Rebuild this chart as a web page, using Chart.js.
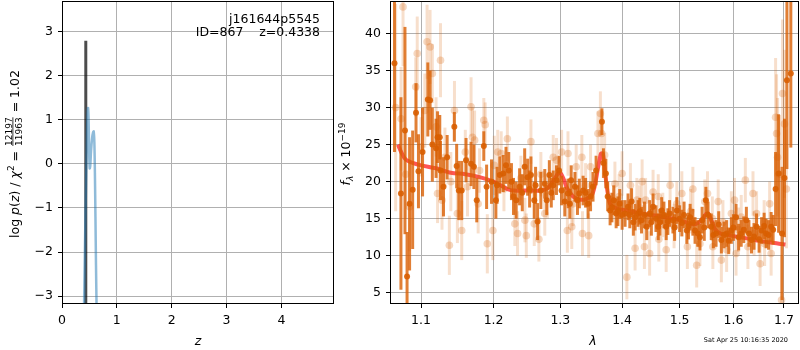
<!DOCTYPE html>
<html>
<head>
<meta charset="utf-8">
<script src="https://cdn.jsdelivr.net/npm/chart.js@4"></script>
<style>
  body { margin: 0; background: #fff; }
  #wrap { position: relative; width: 800px; height: 350px; }
  canvas { position: absolute; top: 0; }
</style>
</head>
<body>
<div id="wrap">
  <canvas id="pz" width="336" height="350" style="left:0"></canvas>
  <canvas id="spec" width="464" height="350" style="left:336px"></canvas>
</div>
<script>
/* p(z) panel */
const zTicks = [0, 1, 2, 3, 4];
const logpTicks = [-3, -2, -1, 0, 1, 2, 3];
const pzZ   = [0.40, 0.43, 0.455, 0.468, 0.476, 0.485, 0.495, 0.505, 0.515, 0.53, 0.55, 0.567, 0.578, 0.59, 0.60, 0.61, 0.62, 0.632];
const pzLog = [-3.4, -1.0, 0.6, 1.2, 1.27, 1.0, 0.3, -0.1, -0.05, 0.3, 0.6, 0.72, 0.74, 0.5, -0.2, -1.2, -2.3, -3.4];
const zBest = 0.4338;
const zBestTop = 2.8;

/* spectrum panel */
const lamTicks = [1.1, 1.2, 1.3, 1.4, 1.5, 1.6, 1.7];
const fluxTicks = [5, 10, 15, 20, 25, 30, 35, 40];

const darkWave = [1.0655, 1.0738, 1.079, 1.0817, 1.085, 1.089, 1.0934, 1.0966, 1.102, 1.109, 1.112, 1.115, 1.12, 1.122, 1.125, 1.126, 1.13, 1.135, 1.1448, 1.148,
  1.151, 1.155, 1.161, 1.168, 1.172, 1.176, 1.186, 1.19, 1.197, 1.2033, 1.209, 1.214, 1.218, 1.222, 1.229, 1.233, 1.238, 1.2456, 1.25, 1.255,
  1.26, 1.265, 1.27, 1.276, 1.283, 1.289, 1.294, 1.302, 1.307, 1.312, 1.317, 1.323, 1.33, 1.336, 1.344, 1.352, 1.357, 1.3665, 1.369, 1.373,
  1.376, 1.38, 1.386, 1.39, 1.396, 1.405, 1.41, 1.416, 1.422, 1.427, 1.433, 1.442, 1.447, 1.453, 1.462, 1.468, 1.476, 1.482, 1.488, 1.495,
  1.504, 1.513, 1.519, 1.528, 1.533, 1.541, 1.548, 1.552, 1.558, 1.567, 1.577, 1.587, 1.596, 1.605, 1.615, 1.625, 1.635, 1.645, 1.655, 1.664,
  1.674, 1.683, 1.689, 1.696, 1.701, 1.706, 1.714,
  1.205, 1.226, 1.242, 1.253, 1.262, 1.279, 1.286, 1.298, 1.315, 1.327, 1.34, 1.348, 1.383, 1.393, 1.4, 1.413, 1.419, 1.43, 1.438, 1.45,
  1.458, 1.465, 1.472, 1.479, 1.491, 1.5, 1.508, 1.516, 1.524, 1.537, 1.545, 1.562, 1.572, 1.582, 1.591, 1.6, 1.61, 1.62, 1.63, 1.64,
  1.65, 1.66, 1.669, 1.678];
const darkFlux = [36, 18.4, 26.9, 7.2, 17, 18.9, 29.3, 21.4, 24, 31.1, 31, 25, 24.5, 26, 26, 21.5, 19.3, 23.3, 27.4, 22.1,
  18.8, 18.8, 22.9, 22.4, 22, 17.5, 24.8, 19.3, 20, 17.5, 20.9, 21.1, 22.2, 21.5, 18, 17.5, 19.3, 22, 20.6, 20.9,
  17.5, 14.6, 18.8, 19.7, 20.9, 19.5, 20.2, 18.8, 17.3, 18.4, 20.2, 19.3, 18.4, 18.8, 17, 19.3, 21.5, 28.1, 22.5, 21.1,
  18, 16.1, 17.5, 15.7, 17, 15.7, 16.6, 17.3, 15.2, 15.7, 14.8, 13.9, 15.7, 16.6, 13.9, 16.1, 13.9, 15.7, 14.8, 16.1,
  14.4, 13.4, 15.2, 13.4, 13, 14.8, 17.5, 15.5, 13.9, 13, 12.1, 13, 13.4, 15.2, 13, 14.8, 12.1, 13.9, 13.4, 13,
  13.9, 19, 21.1, 13, 20.5, 33.7, 34.6,
  19.5, 20, 18.5, 19, 19.5, 17.5, 18.5, 21.5, 17, 17.5, 18.5, 18, 16.5, 16, 15.5, 15.5, 14.5, 16, 15.5, 14.5,
  15, 14.5, 15.5, 14.6, 13.8, 15, 15.5, 14, 14.5, 12.5, 13.8, 12.8, 14.2, 12.8, 12, 13.8, 12.5, 13.5, 13, 12.6,
  12.2, 14, 12.8, 13.5];
const darkErr = [12, 13, 14, 6, 9, 8, 4, 5, 6, 5, 4, 5, 4, 3.5, 3, 4, 4, 3, 2, 3,
  4, 4, 3, 3, 3, 3, 2, 3, 3, 2.5, 2.5, 2.5, 2.5, 2.5, 2.5, 2.5, 2.5, 2.5, 2.5, 2.5,
  2.5, 2.5, 2.5, 2, 2, 2, 2, 2, 2, 2, 2, 2, 2, 2, 2, 2, 2, 1.8, 2, 2,
  2, 2, 2, 2, 2, 1.8, 1.8, 1.8, 1.8, 1.8, 1.8, 1.8, 1.8, 1.8, 1.8, 1.8, 1.8, 1.8, 1.8, 1.8,
  1.8, 1.8, 1.8, 1.8, 1.8, 1.8, 1.8, 1.8, 1.8, 1.8, 1.8, 1.8, 1.8, 1.8, 1.8, 1.8, 1.8, 1.8, 1.8, 2,
  2, 5, 8, 9, 8, 12, 10,
  2.5, 2.5, 2.5, 2.5, 2.5, 2, 2, 2, 2, 2, 2, 2, 2, 2, 2, 1.8, 1.8, 1.8, 1.8, 1.8,
  1.8, 1.8, 1.8, 1.8, 1.8, 1.8, 1.8, 1.8, 1.8, 1.8, 1.8, 1.8, 1.8, 1.8, 1.8, 1.8, 1.8, 1.8, 1.8, 1.8,
  1.8, 1.8, 2, 2];

const lightWave = [1.067, 1.0765, 1.074, 1.08, 1.085, 1.093, 1.095, 1.1, 1.105, 1.108, 1.112, 1.115, 1.12, 1.122, 1.126, 1.128, 1.132, 1.138, 1.14, 1.145,
  1.149, 1.155, 1.16, 1.163, 1.168, 1.17, 1.173, 1.178, 1.18, 1.186, 1.188, 1.191, 1.199, 1.201, 1.206, 1.211, 1.215, 1.22, 1.231, 1.235,
  1.24, 1.246, 1.248, 1.255, 1.26, 1.267, 1.27, 1.276, 1.28, 1.289, 1.294, 1.302, 1.311, 1.312, 1.318, 1.32, 1.325, 1.334, 1.335, 1.34,
  1.345, 1.348, 1.36, 1.364, 1.366, 1.371, 1.388, 1.395, 1.4, 1.408, 1.414, 1.422, 1.425, 1.43, 1.434, 1.438, 1.44, 1.447, 1.453, 1.462,
  1.463, 1.47, 1.476, 1.483, 1.49, 1.495, 1.504, 1.514, 1.52, 1.524, 1.531, 1.537, 1.546, 1.551, 1.56, 1.561, 1.571, 1.577, 1.58, 1.587,
  1.596, 1.602, 1.605, 1.61, 1.615, 1.623, 1.628, 1.638, 1.64, 1.645, 1.652, 1.66, 1.661, 1.671, 1.674, 1.683, 1.685, 1.687, 1.691, 1.695,
  1.697, 1.701, 1.705];
const lightFlux = [30, 43.6, 28.5, 21, 16.6, 32.8, 37.3, 24.7, 29.6, 38.9, 38.2, 34.6, 27.4, 18.4, 36.4, 17.5, 23.3, 11.4, 20, 29.6,
  15.7, 13.4, 24, 19.3, 30.1, 26, 25.6, 17, 21.5, 28.3, 27.7, 11.6, 13.4, 22.2, 24, 23.8, 19, 25.8, 14.3, 13,
  20.5, 14.8, 12.7, 25.4, 14.3, 12.2, 21, 15.7, 18, 23.3, 22.9, 24, 13.4, 23.8, 13.9, 17, 22, 23.3, 13, 19.5,
  12.7, 22, 26.5, 29.2, 26.5, 23.6, 19.7, 18, 21.1, 7.1, 19.5, 11, 17.5, 16.5, 20, 11.2, 17.5, 10.3, 18.6, 18,
  12.2, 15.5, 10.8, 19.5, 14, 17, 18.4, 11.2, 16, 19, 8.7, 11.6, 17.3, 18.4, 15, 11.2, 17.3, 9.4, 14.5, 10.8,
  15.7, 17.5, 10.3, 13.5, 15.2, 20.2, 11.2, 18.4, 13, 15.7, 8.9, 14.5, 11.6, 17, 10.3, 28.7, 26.5, 23.3, 21, 4,
  31.9, 27.8, 19];
const lightErr = [14, 8, 7, 6, 6, 4, 5, 4, 5, 5, 5, 4, 4, 4, 5, 4, 4, 4, 4, 4,
  4, 4, 3, 4, 4, 4, 4, 4, 3, 3, 3, 4, 4, 4, 3, 3, 3, 3, 3, 3,
  3, 3, 3, 3, 3, 3, 3, 3, 3, 3, 3, 3, 3, 3, 3, 3, 3, 3, 3, 3,
  3, 3, 3, 3, 3, 3, 3, 3, 3, 3, 3, 3, 3, 3, 3, 3, 3, 3, 3, 3,
  3, 3, 3, 3, 3, 3, 3, 3, 3, 3, 3, 3, 3, 3, 3, 3, 3, 3, 3, 3,
  3, 3, 3, 3, 3, 3, 3, 3, 3, 3, 3, 3, 3, 3, 3, 8, 8, 8, 8, 6,
  10, 10, 8];

const modelWave = [1.070, 1.075, 1.080, 1.090, 1.100, 1.120, 1.140, 1.160, 1.180, 1.200, 1.210, 1.220, 1.230, 1.250, 1.270, 1.280, 1.290, 1.297, 1.300, 1.305,
  1.310, 1.320, 1.330, 1.340, 1.350, 1.355, 1.360, 1.365, 1.368, 1.372, 1.376, 1.380, 1.390, 1.400, 1.420, 1.440, 1.460, 1.480, 1.500, 1.520,
  1.530, 1.540, 1.548, 1.552, 1.558, 1.565, 1.575, 1.590, 1.610, 1.630, 1.650, 1.670, 1.690, 1.703];
const modelFlux = [25.0, 23.8, 23.0, 22.5, 22.2, 21.8, 21.2, 21.0, 20.6, 20.0, 19.5, 19.0, 18.8, 18.8, 18.8, 19.1, 20.2, 21.2, 21.2, 20.4,
  19.2, 18.0, 17.6, 17.6, 18.2, 19.5, 21.8, 23.8, 23.8, 21.0, 18.5, 17.0, 16.4, 16.2, 15.9, 15.6, 15.4, 15.1, 14.8, 14.3,
  14.3, 14.8, 15.6, 15.7, 14.8, 13.6, 13.0, 12.8, 12.5, 12.3, 12.0, 11.8, 11.6, 11.5];

const zip = (xs, ys) => xs.map((x, i) => ({x: x, y: ys[i]}));
const tickFont = {family: 'DejaVu Sans', size: 12.5};
const gridStyle = {color: '#b0b0b0', lineWidth: 1, tickColor: '#000', tickLength: 4, tickWidth: 1};
const minus = v => (v < 0 ? '\u2212' + Math.abs(v) : '' + v);
const fitX = ax => { ax.height = 46; ax.paddingLeft = 0; ax.paddingRight = 0; };
const fitY = w => ax => { ax.width = w; ax.paddingTop = 0; ax.paddingBottom = 0; };

// draw the axes box
const frame = {
  id: 'frame',
  afterDraw(chart) {
    const {ctx, chartArea: a} = chart;
    ctx.save();
    ctx.strokeStyle = '#000';
    ctx.lineWidth = 1;
    ctx.strokeRect(Math.round(a.left) + 0.5, Math.round(a.top) + 0.5, Math.round(a.width) - 1, Math.round(a.height) - 1);
    ctx.restore();
  }
};

// vertical error bars, drawn just before each dataset's points
const errorBars = {
  id: 'errorBars',
  beforeDatasetDraw(chart, args) {
    const ds = chart.data.datasets[args.index];
    if (!ds.errors) return;
    const {ctx, chartArea: a, scales: {x, y}} = chart;
    ctx.save();
    ctx.beginPath();
    ctx.rect(a.left, a.top, a.width, a.height);
    ctx.clip();
    ctx.strokeStyle = ds.errorColor;
    ctx.lineWidth = 3;
    ds.data.forEach((p, i) => {
      const px = x.getPixelForValue(p.x);
      ctx.beginPath();
      ctx.moveTo(px, y.getPixelForValue(p.y - ds.errors[i]));
      ctx.lineTo(px, y.getPixelForValue(p.y + ds.errors[i]));
      ctx.stroke();
    });
    ctx.restore();
  }
};

// write text pieces one after another: [text, font, dy]
function pieces(ctx, list, x0, base) {
  let x = x0;
  list.forEach(p => {
    ctx.font = p[1];
    ctx.fillText(p[0], x, base + (p[2] || 0));
    x += ctx.measureText(p[0]).width;
  });
  return x;
}
function piecesWidth(ctx, list) {
  let w = 0;
  list.forEach(p => { ctx.font = p[1]; w += ctx.measureText(p[0]).width; });
  return w;
}

const R = '12.5px "DejaVu Sans"', I = 'italic 12.5px "DejaVu Sans"', S = '9px "DejaVu Sans"', SI = 'italic 9px "DejaVu Sans"';

const pzText = {
  id: 'pzText',
  afterDraw(chart) {
    const ctx = chart.ctx;
    ctx.save();
    ctx.fillStyle = '#000';
    ctx.textAlign = 'right';
    ctx.textBaseline = 'alphabetic';
    ctx.font = '12.5px "DejaVu Sans"';
    ctx.fillText('j161644p5545', 320, 23);
    ctx.fillText('ID=867    z=0.4338', 320, 36);
    // x title
    ctx.textAlign = 'center';
    ctx.font = I;
    ctx.fillText('z', 198, 345);
    // y title with fraction
    ctx.textAlign = 'left';
    ctx.translate(14, 154);
    ctx.rotate(-Math.PI / 2);
    const a = [['log ', R], ['p', I], ['(', R], ['z', I], [')', R], [' / ', R], ['\u03c7', I], ['2', S, -5], [' = ', R]];
    const b = [[' = 1.02', R]];
    ctx.font = S;
    const fw = Math.max(ctx.measureText('12197').width, ctx.measureText('11963').width) + 2;
    const total = piecesWidth(ctx, a) + fw + piecesWidth(ctx, b);
    let x = -total / 2;
    const base = 4.5;
    x = pieces(ctx, a, x, base);
    ctx.font = S;
    ctx.textAlign = 'center';
    ctx.fillText('12197', x + fw / 2, -2.5);
    ctx.fillText('11963', x + fw / 2, 8);
    ctx.fillRect(x + 1, -1.5, fw - 2, 0.8);
    ctx.textAlign = 'left';
    pieces(ctx, b, x + fw, base);
    ctx.restore();
  }
};

const specText = {
  id: 'specText',
  afterDraw(chart) {
    const ctx = chart.ctx;
    ctx.save();
    ctx.fillStyle = '#000';
    ctx.textAlign = 'center';
    ctx.font = I;
    ctx.fillText('\u03bb', 593 - 336, 345);
    ctx.textAlign = 'right';
    ctx.font = '6.5px "DejaVu Sans"';
    ctx.fillText('Sat Apr 25 10:16:35 2020', 788 - 336, 342);
    ctx.textAlign = 'left';
    ctx.translate(9.5, 154);
    ctx.rotate(-Math.PI / 2);
    const t = [['f', I], ['\u03bb', SI, 3], [' \u00d7 10', R], ['\u221219', S, -5]];
    pieces(ctx, t, -piecesWidth(ctx, t) / 2, 4.5);
    ctx.restore();
  }
};

new Chart(document.getElementById('pz'), {
  type: 'scatter',
  data: {
    datasets: [{
      data: zip(pzZ, pzLog),
      showLine: true,
      pointRadius: 0,
      borderColor: 'rgba(31, 119, 180, 0.5)',
      borderWidth: 2.5,
      tension: 0.3
    }, {
      data: [{x: zBest, y: -3.18}, {x: zBest, y: zBestTop}],
      showLine: true,
      pointRadius: 0,
      borderColor: 'rgba(0, 0, 0, 0.7)',
      borderWidth: 3
    }]
  },
  options: {
    responsive: false,
    animation: false,
    layout: {autoPadding: false, padding: {left: 0, right: 2, top: 1, bottom: 0}},
    plugins: {legend: {display: false}, tooltip: {enabled: false}},
    scales: {
      x: {
        type: 'linear', min: 0, max: 4.96,
        afterBuildTicks: ax => { ax.ticks = zTicks.map(v => ({value: v})); },
        afterFit: fitX,
        border: {display: false},
        grid: gridStyle,
        ticks: {font: tickFont, color: '#000', padding: 5, maxRotation: 0, callback: v => minus(v)}
      },
      y: {
        type: 'linear', min: -3.18, max: 3.70,
        afterBuildTicks: ax => { ax.ticks = logpTicks.map(v => ({value: v})); },
        afterFit: fitY(62),
        border: {display: false},
        grid: gridStyle,
        ticks: {font: tickFont, color: '#000', padding: 5, callback: v => minus(v)}
      }
    }
  },
  plugins: [frame, pzText]
});

new Chart(document.getElementById('spec'), {
  type: 'scatter',
  data: {
    datasets: [{
      data: zip(lightWave, lightFlux),
      errors: lightErr,
      errorColor: 'rgba(217, 95, 2, 0.2)',
      pointRadius: 3.8,
      pointBorderWidth: 0,
      backgroundColor: 'rgba(217, 95, 2, 0.25)'
    }, {
      data: zip(darkWave, darkFlux),
      errors: darkErr,
      errorColor: 'rgba(217, 95, 2, 0.8)',
      pointRadius: 3,
      pointBorderWidth: 0,
      backgroundColor: 'rgba(217, 95, 2, 0.9)'
    }, {
      data: zip(modelWave, modelFlux),
      showLine: true,
      pointRadius: 0,
      borderColor: 'rgba(255, 20, 20, 0.72)',
      borderWidth: 4,
      tension: 0.3
    }]
  },
  options: {
    responsive: false,
    animation: false,
    layout: {autoPadding: false, padding: {left: 0, right: 1, top: 1, bottom: 0}},
    plugins: {legend: {display: false}, tooltip: {enabled: false}},
    scales: {
      x: {
        type: 'logarithmic', min: 1.0598, max: 1.7309,
        afterBuildTicks: ax => { ax.ticks = lamTicks.map(v => ({value: v})); },
        afterFit: fitX,
        border: {display: false},
        grid: gridStyle,
        ticks: {font: tickFont, color: '#000', padding: 5, maxRotation: 0, callback: v => v.toFixed(1)}
      },
      y: {
        type: 'linear', min: 3.47, max: 44.4,
        afterBuildTicks: ax => { ax.ticks = fluxTicks.map(v => ({value: v})); },
        afterFit: fitY(54),
        border: {display: false},
        grid: gridStyle,
        ticks: {font: tickFont, color: '#000', padding: 5}
      }
    }
  },
  plugins: [errorBars, frame, specText]
});
</script>
</body>
</html>
